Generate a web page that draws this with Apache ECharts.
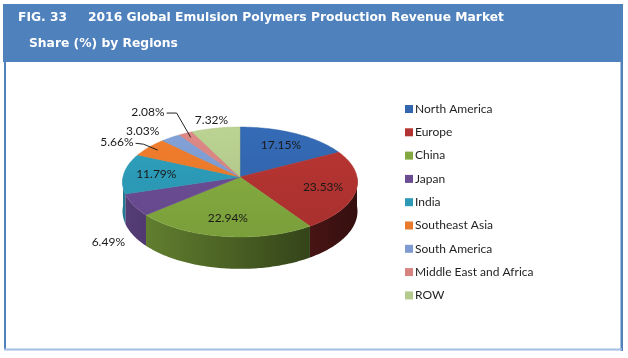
<!DOCTYPE html>
<html><head><meta charset="utf-8">
<script src="https://cdn.jsdelivr.net/npm/echarts@6/dist/echarts.min.js"></script>
<style>html,body{margin:0;padding:0;background:#fff}#main{width:628px;height:358px}</style>
</head><body><div id="main"></div>
<script>
// ---- data ----
const categories = ['North America','Europe','China','Japan','India','Southeast Asia','South America','Middle East and Africa','ROW'];
const shares = [17.15, 23.53, 22.94, 6.49, 11.79, 5.66, 3.03, 2.08, 7.32];
const sliceColors = ['#3266AE','#B23331','#82A93F','#6A4C93','#2C9AB7','#E9792B','#7D9BD0','#D68381','#B3CA8C'];
const figLabel = 'FIG. 33';
const titleWords1 = ['2016','Global','Emulsion','Polymers','Production','Revenue','Market'];
const titleLine2 = 'Share (%) by Regions';

// ---- layout ----
const CX = 240, CY = 177, RX = 117, RY = 54.5, K = 0.091, DEPTH = 29;
const TITLE_FONT = 'bold 12.3px "DejaVu Sans"';
const LABEL_FONT = '12px Lato';
const LABEL_COLOR = '#1a1a1a';

const total = shares.reduce((a, b) => a + b, 0);
const starts = [];
let acc = 0;
shares.forEach(v => { starts.push(acc / total * Math.PI * 2); acc += v; });

function proj(theta, r, dz) {
  const X = r * Math.sin(theta), Z = r * Math.cos(theta);
  const s = 1 / (1 + K * Z);
  return [CX + RX * X * s, CY - RY * Z * s + (dz || 0) * s];
}
function shade(hex, f) {
  const n = parseInt(hex.slice(1), 16);
  const r = Math.round(((n >> 16) & 255) * f), g = Math.round(((n >> 8) & 255) * f), b = Math.round((n & 255) * f);
  return 'rgb(' + Math.min(255, r) + ',' + Math.min(255, g) + ',' + Math.min(255, b) + ')';
}
function arc(a, b, r, dz) {
  const pts = [];
  const n = Math.max(2, Math.ceil((b - a) / (Math.PI / 180)));
  for (let j = 0; j <= n; j++) pts.push(proj(a + (b - a) * j / n, r, dz));
  return pts;
}

const measureCtx = document.createElement('canvas').getContext('2d');
function textW(t, font) { measureCtx.font = font; return measureCtx.measureText(t).width; }

// label layout computed from the data
function layoutLabels() {
  const out = [];
  const boxes = [];
  shares.forEach((v, i) => {
    const a = starts[i], b = a + v / total * Math.PI * 2, m = (a + b) / 2;
    const text = v.toFixed(2) + '%';
    const w = textW(text, LABEL_FONT), h = 10;
    if (v >= 10) {
      const p = proj(m, 0.72);
      out.push({ x: p[0], y: p[1], text, align: 'center' });
      return;
    }
    const front = Math.cos(m) < 0;
    let p = proj(m, front ? 1.22 : 1.18, front ? DEPTH : 0);
    let align = 'center';
    if (!front && Math.sin(m) < -0.4) align = 'right';
    let x = p[0];
    let x0 = align === 'right' ? x - w : x - w / 2;
    let y = p[1];
    let pushed = false, moved = true, guard = 0;
    while (moved && guard++ < 10) {
      moved = false;
      for (const bx of boxes) {
        if (x0 < bx.x1 && x0 + w > bx.x0 && y - h / 2 < bx.y1 && y + h / 2 > bx.y0) {
          y = bx.y0 - h / 2 - 9; moved = true; pushed = true;
          x = x - 12; x0 = x0 - 12;
        }
      }
    }
    boxes.push({ x0: x0, x1: x0 + w, y0: y - h / 2, y1: y + h / 2 });
    const item = { x, y, text, align };
    if (!front && align === 'right' && (pushed || Math.sin(m) < -0.75)) {
      const rim = proj(m, 0.9);
      const bend = pushed ? [x + 12, y + 1] : [x + 10, y + 2];
      item.leader = [[x + 2, y + 1], bend, rim];
    }
    out.push(item);
  });
  return out;
}
const labelLayout = layoutLabels();

function renderWall(params, api) {
  const i = params.dataIndex;
  const v = api.value(0);
  const a = starts[i], b = a + v / total * Math.PI * 2;
  const lo = Math.max(a, Math.PI / 2), hi = Math.min(b, Math.PI * 1.5);
  if (hi <= lo) return { type: 'group', children: [] };
  const topPts = arc(lo, hi, 1, 0);
  const botPts = arc(lo, hi, 1, DEPTH).reverse();
  const c = sliceColors[i];
  return {
    type: 'polygon',
    shape: { points: topPts.concat(botPts) },
    style: {
      fill: { type: 'linear', x: CX - RX, y: 0, x2: CX + RX, y2: 0, global: true,
        colorStops: [{ offset: 0, color: shade(c, 0.8) }, { offset: 1, color: shade(c, 0.3) }] },
      stroke: null
    }
  };
}
function renderTop(params, api) {
  const i = params.dataIndex;
  const v = api.value(0);
  const a = starts[i], b = a + v / total * Math.PI * 2;
  const pts = [[CX, CY]].concat(arc(a, b, 1, 0));
  const c = sliceColors[i];
  return {
    type: 'polygon',
    shape: { points: pts },
    style: {
      fill: { type: 'linear', x: 0, y: CY - RY, x2: 0, y2: CY + RY * 1.1, global: true,
        colorStops: [{ offset: 0, color: shade(c, 1.05) }, { offset: 1, color: shade(c, 0.94) }] },
      stroke: shade(c, 0.96), lineWidth: 0.5
    }
  };
}
function renderLabel(params, api) {
  const L = labelLayout[params.dataIndex];
  const children = [];
  if (L.leader) {
    children.push({ type: 'polyline', shape: { points: L.leader }, style: { stroke: '#222', lineWidth: 1, fill: null } });
  }
  children.push({
    type: 'text', x: L.x, y: L.y,
    style: { text: L.text, font: LABEL_FONT, fill: LABEL_COLOR, align: L.align, verticalAlign: 'middle',
      textAlign: L.align, textVerticalAlign: 'middle' }
  });
  return { type: 'group', children };
}

// title words justified
const titleEls = [];
titleEls.push({ type: 'text', x: 18, y: 18, style: { text: figLabel, font: TITLE_FONT, fill: '#fff', verticalAlign: 'middle', textVerticalAlign: 'middle' } });
(function () {
  const left = 88, right = 504;
  const ws = titleWords1.map(w => textW(w, TITLE_FONT));
  const sum = ws.reduce((a, b) => a + b, 0);
  const gap = (right - left - sum) / (titleWords1.length - 1);
  let x = left;
  titleWords1.forEach((w, j) => {
    titleEls.push({ type: 'text', x: x, y: 18, style: { text: w, font: TITLE_FONT, fill: '#fff', verticalAlign: 'middle', textVerticalAlign: 'middle' } });
    x += ws[j] + gap;
  });
})();
titleEls.push({ type: 'text', x: 29, y: 44, style: { text: titleLine2, font: TITLE_FONT, fill: '#fff', verticalAlign: 'middle', textVerticalAlign: 'middle' } });

const dataItems = categories.map((n, i) => ({ name: n, value: shares[i] }));

const chart = echarts.init(document.getElementById('main'));
chart.setOption({
  animation: false,
  backgroundColor: '#fff',
  graphic: [
    { type: 'rect', shape: { x: 3, y: 4, width: 620, height: 58 }, style: { fill: '#4F81BD' }, z: 0 },
    { type: 'rect', shape: { x: 4, y: 62, width: 2, height: 288 }, style: { fill: '#4F81BD' }, z: 0 },
    { type: 'rect', shape: { x: 620.5, y: 62, width: 2.5, height: 289 }, style: { fill: '#4F81BD' }, z: 0 },
    { type: 'rect', shape: { x: 4, y: 348.5, width: 618, height: 2 }, style: { fill: '#A3BEE3' }, z: 0 },
    ...titleEls.map(e => Object.assign(e, { z: 10 }))
  ],
  legend: {
    orient: 'vertical', left: 400, top: 97, padding: 5,
    itemWidth: 8, itemHeight: 8, itemGap: 9.3, icon: 'rect', selectedMode: false,
    textStyle: { fontFamily: 'Lato', fontSize: 12, color: '#1f1f1f', lineHeight: 14, padding: [0, 0, 0, -3] },
    data: categories
  },
  series: [
    { type: 'pie', radius: 0, center: [-50, -50], silent: true, label: { show: false }, labelLine: { show: false },
      data: categories.map((n, i) => ({ name: n, value: shares[i], itemStyle: { color: sliceColors[i] } })) },
    { type: 'custom', name: 'wall', coordinateSystem: 'none', z: 2, silent: true, renderItem: renderWall, data: dataItems },
    { type: 'custom', name: 'top', coordinateSystem: 'none', z: 3, silent: true, renderItem: renderTop, data: dataItems },
    { type: 'custom', name: 'labels', coordinateSystem: 'none', z: 4, silent: true, renderItem: renderLabel, data: dataItems }
  ]
});
</script></body></html>
